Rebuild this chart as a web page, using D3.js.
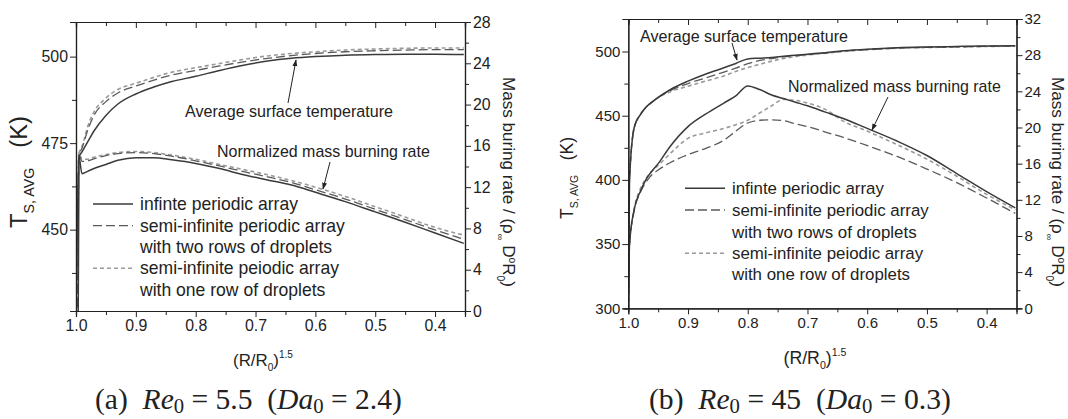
<!DOCTYPE html>
<html><head><meta charset="utf-8">
<script src="https://cdn.jsdelivr.net/npm/d3@7"></script>
<style>body{margin:0;background:#fff}svg{display:block}text{font-family:"Liberation Sans",Arial,sans-serif;fill:#222}</style>
</head><body><svg id="c" width="1068" height="419"></svg>
<script>
// ---------- data ----------
// Panel (a) Re0 = 5.5
const xA = [1.0,0.995,0.99,0.98,0.97,0.95,0.93,0.90,0.87,0.84,0.80,0.76,0.72,0.68,0.64,0.60,0.55,0.50,0.45,0.40,0.352];
const tempA_inf  = [300,471,472.5,475.5,478.5,483,486.3,489.2,491.2,492.8,494.3,496,497.5,498.7,499.5,500,500.4,500.6,500.7,500.7,500.6];
const tempA_two  = [300,471.5,473.5,479,483,487,489.5,491.5,493.2,494.7,496,497.3,498.5,499.5,500.3,500.9,501.4,501.7,501.9,502,502];
const tempA_one  = [300,472,474,480,484,488,490.5,492.3,494,495.5,496.8,498,499.2,500.2,500.9,501.4,501.9,502.2,502.4,502.5,502.5];
const massA_inf  = [0,14.9,13.3,13.55,13.8,14.2,14.6,14.85,14.85,14.65,14.3,13.8,13.2,12.7,12.2,11.5,10.6,9.6,8.6,7.55,6.55];
const massA_two  = [0,15.1,14.5,14.55,14.75,15.05,15.25,15.35,15.25,15.0,14.55,14.05,13.5,13.0,12.45,11.75,10.85,9.85,8.85,7.85,6.95];
const massA_one  = [0,15.3,14.7,14.7,14.9,15.15,15.35,15.45,15.35,15.1,14.7,14.2,13.7,13.2,12.65,12.0,11.1,10.1,9.1,8.1,7.35];
// Panel (b) Re0 = 45
const xB = [1.0,0.998,0.99,0.98,0.97,0.96,0.95,0.93,0.90,0.87,0.84,0.82,0.80,0.78,0.76,0.74,0.72,0.70,0.67,0.64,0.60,0.55,0.50,0.45,0.40,0.352];
const tempB_inf  = [300,400,441,450.7,456.8,460.7,464.2,470.2,476.9,482.5,487.3,490.7,494.2,494.8,495.4,496.3,497.1,497.9,499.1,500.5,501.8,502.9,503.5,503.9,504.3,504.5];
const tempB_two  = [300,400,441,450.7,456.8,460.7,464.2,469.5,475,479.5,484,487,490.5,493,494.5,495.8,496.8,497.6,498.8,500.2,501.5,502.6,503.2,503.6,504,504.2];
const tempB_one  = [300,400,441,450.7,456.8,460.7,464.0,468.5,473,477,481,484.5,487.5,490,492.5,494.5,496,497.3,498.6,500,501.4,502.5,503.1,503.5,503.9,504.1];
const massB_inf  = [0,7.0,11.0,12.9,14.3,15.2,16.0,17.9,20.1,21.5,22.7,23.5,24.6,24.2,23.6,23.2,22.8,22.4,21.7,21.0,19.9,18.5,16.9,14.9,12.9,11.1];
const massB_two  = [0,7.0,10.8,12.8,14.0,14.8,15.3,16.1,17.0,17.7,18.6,19.6,20.5,20.8,20.85,20.75,20.4,20.1,19.5,18.9,18.0,16.8,15.4,13.9,12.2,10.5];
const massB_one  = [0,7.0,11.0,13.2,14.4,15.2,15.8,17.1,18.8,19.4,19.9,20.3,20.8,21.6,22.4,23.1,23.0,22.7,22.0,20.7,19.6,18.1,16.5,14.6,12.6,10.9];
// ticks and labels
const xMajor = [1.0,0.9,0.8,0.7,0.6,0.5,0.4];
const xMinor = [0.95,0.85,0.75,0.65,0.55,0.45];
const yLeftA = [450,475,500], yLeftAMinor = [437.5,462.5,487.5];
const yLeftB = [300,350,400,450,500], yLeftBMinor = [325,375,425,475];
const yRightA = [0,4,8,12,16,20,24,28], yRightAMinor = [2,6,10,14,18,22,26];
const yRightB = [0,4,8,12,16,20,24,28,32], yRightBMinor = [2,6,10,14,18,22,26,30];
const seriesNames = ["infinte periodic array","semi-infinite periodic array","with two rows of droplets","semi-infinite peiodic array","with one row of droplets"];
const annTemp = "Average surface temperature", annMass = "Normalized mass burning rate";

const SANS = "'Liberation Sans', Arial, sans-serif";
const styles = [
  {stroke:"#3a3a3a", width:1.5, dash:null},
  {stroke:"#5a5a5a", width:1.3, dash:"9,4"},
  {stroke:"#9a9a9a", width:1.6, dash:"4,3"}
];

// size a text so that its advance width matches a width
function fit(sel, target){
  sel.attr("font-size",20);
  const w = sel.node().getComputedTextLength();
  const fs = 20*target/w;
  sel.attr("font-size",fs);
  return fs;
}

const svg = d3.select("#c");
svg.append("rect").attr("width",1068).attr("height",419).attr("fill","#fff");
const defs = svg.append("defs");
defs.append("marker").attr("id","arr").attr("viewBox","0 0 10 10").attr("refX",9).attr("refY",5)
  .attr("markerWidth",7).attr("markerHeight",7).attr("orient","auto")
  .append("path").attr("d","M0,1.5L10,5L0,8.5Z").attr("fill","#222");

function panel(o){
  const g = svg.append("g");
  const x = d3.scaleLinear().domain([1.0,0.35]).range([o.x0,o.x1]);
  const yL = d3.scaleLinear().domain(o.yLdom).range([o.y1,o.y0]);
  const yR = d3.scaleLinear().domain(o.yRdom).range([o.y1,o.y0]);
  const cid = "clip"+o.id;
  defs.append("clipPath").attr("id",cid).append("rect")
    .attr("x",o.x0).attr("y",o.y0).attr("width",o.x1-o.x0).attr("height",o.y1-o.y0);
  const plot = g.append("g").attr("clip-path",`url(#${cid})`);
  const mk = (xs,ys)=> xs.map((v,i)=>[v,ys[i]]);
  const line = sc => d3.line().x(d=>x(d[0])).y(d=>sc(d[1])).curve(d3.curveMonotoneX);
  const draw = (data,sc,s)=> plot.append("path").datum(data).attr("d",line(sc)).attr("fill","none")
     .attr("stroke",s.stroke).attr("stroke-width",s.width).attr("stroke-dasharray",s.dash);
  [2,1,0].forEach(k=>{ draw(mk(o.xs,o.temps[k]),yL,styles[k]); draw(mk(o.xs,o.mass[k]),yR,styles[k]); });

  const probe = g.append("text").text("500");
  const fs = fit(probe, o.tickW); probe.remove();

  const ax = g.append("g");
  ax.append("g").attr("transform",`translate(0,${o.y1})`).call(d3.axisBottom(x).tickValues(xMajor).tickFormat(d3.format(".1f")).tickSize(6).tickPadding(3));
  ax.append("g").attr("transform",`translate(0,${o.y1})`).call(d3.axisBottom(x).tickValues(xMinor).tickFormat("").tickSize(4));
  ax.append("g").attr("transform",`translate(0,${o.y0})`).call(d3.axisTop(x).tickValues(xMajor).tickFormat("").tickSize(-6));
  ax.append("g").attr("transform",`translate(0,${o.y0})`).call(d3.axisTop(x).tickValues(xMinor).tickFormat("").tickSize(-4));
  ax.append("g").attr("transform",`translate(${o.x0},0)`).call(d3.axisLeft(yL).tickValues(o.yLt).tickFormat(d3.format("d")).tickSize(6).tickPadding(2));
  ax.append("g").attr("transform",`translate(${o.x0},0)`).call(d3.axisLeft(yL).tickValues(o.yLm).tickFormat("").tickSize(4));
  ax.append("g").attr("transform",`translate(${o.x1},0)`).call(d3.axisRight(yR).tickValues(o.yRt).tickFormat(d3.format("d")).tickSize(6).tickPadding(2));
  ax.append("g").attr("transform",`translate(${o.x1},0)`).call(d3.axisRight(yR).tickValues(o.yRm).tickFormat("").tickSize(4));
  ax.selectAll(".domain").attr("stroke","#222").attr("stroke-width",1.2);
  ax.selectAll(".tick line").attr("stroke","#222").attr("stroke-width",1);
  ax.selectAll("text").attr("font-family",SANS).attr("font-size",fs).attr("fill","#222");

  // legend
  const lg = g.append("g");
  const rows = o.legRows;
  [[0,0],[1,1],[3,2]].forEach(([r,k])=>{
    lg.append("line").attr("x1",o.legX).attr("x2",o.legX+40).attr("y1",rows[r]).attr("y2",rows[r])
      .attr("stroke",styles[k].stroke).attr("stroke-width",styles[k].width).attr("stroke-dasharray",styles[k].dash);
  });
  const lts = seriesNames.map((s,i)=> lg.append("text").attr("x",o.legX+47).attr("y",rows[i]).attr("dy","0.35em").text(s));
  const lfs = fit(lts[1], o.legW);
  lts.forEach(t=>t.attr("font-size",lfs));

  // annotations
  const an = g.append("g");
  fit(an.append("text").attr("x",o.annT[0]).attr("y",o.annT[1]).text(annTemp), 208);
  fit(an.append("text").attr("x",o.annM[0]).attr("y",o.annM[1]).text(annMass), 213);
  an.append("line").attr("x1",o.arrT[0]).attr("y1",o.arrT[1]).attr("x2",o.arrT[2]).attr("y2",o.arrT[3])
    .attr("stroke","#222").attr("stroke-width",1).attr("marker-end","url(#arr)");
  an.append("line").attr("x1",o.arrM[0]).attr("y1",o.arrM[1]).attr("x2",o.arrM[2]).attr("y2",o.arrM[3])
    .attr("stroke","#222").attr("stroke-width",1).attr("marker-end","url(#arr)");

  // axis titles
  const lt = g.append("text").attr("text-anchor","middle")
    .attr("transform",`translate(${o.ylX},${o.ylY}) rotate(-90)`);
  lt.append("tspan").text("T");
  lt.append("tspan").style("font-size","0.6em").attr("dy","0.5em").text("S, AVG");
  lt.append("tspan").attr("dy","-0.3em").text("\u00a0\u00a0\u00a0(K)");
  fit(lt, o.ylW);

  const rt = g.append("text").attr("text-anchor","middle")
    .attr("transform",`translate(${o.yrX},${o.yrY}) rotate(90)`);
  rt.append("tspan").text("Mass buring rate / (ρ");
  rt.append("tspan").style("font-size","0.55em").attr("dy","0.6em").text("∞");
  rt.append("tspan").attr("dy","-0.33em").text("\u00a0D");
  rt.append("tspan").style("font-size","0.6em").attr("dy","-0.55em").text("o");
  rt.append("tspan").attr("dy","0.33em").text("R");
  rt.append("tspan").style("font-size","0.6em").attr("dy","0.55em").text("0");
  rt.append("tspan").attr("dy","-0.33em").text(")");
  fit(rt, 210);

  const xt = g.append("text").attr("text-anchor","middle").attr("x",o.xlX).attr("y",o.xlY);
  xt.append("tspan").text("(R/R");
  xt.append("tspan").style("font-size","0.6em").attr("dy","0.5em").text("0");
  xt.append("tspan").attr("dy","-0.3em").text(")");
  xt.append("tspan").style("font-size","0.6em").attr("dy","-0.75em").text("1.5");
  fit(xt, o.xlW);

  // caption
  const cap = g.append("text").attr("x",o.capX).attr("y",409).style("font-family","'Liberation Serif','DejaVu Serif',serif");
  cap.append("tspan").text(o.cap[0]+"\u00a0\u00a0");
  cap.append("tspan").attr("font-style","italic").text("Re");
  cap.append("tspan").style("font-size","0.7em").attr("dy","0.18em").text("0");
  cap.append("tspan").attr("dy","-0.126em").text("\u00a0=\u00a0"+o.cap[1]+"\u00a0\u00a0(");
  cap.append("tspan").attr("font-style","italic").text("Da");
  cap.append("tspan").style("font-size","0.7em").attr("dy","0.18em").text("0");
  cap.append("tspan").attr("dy","-0.126em").text("\u00a0=\u00a0"+o.cap[2]+")");
  fit(cap, o.capW);
}

panel({id:"a", x0:76, x1:465, y0:22, y1:311, yLdom:[426.5,510], yRdom:[0,28],
  xs:xA, temps:[tempA_inf,tempA_two,tempA_one], mass:[massA_inf,massA_two,massA_one],
  yLt:yLeftA, yLm:yLeftAMinor, yRt:yRightA, yRm:yRightAMinor, tickW:26.5,
  legX:93, legRows:[204,225.7,247,268.3,290], legW:205,
  annT:[185,117], annM:[217,157], arrT:[288,103,296,60], arrM:[330,162,323,189],
  ylX:27, ylY:172, ylW:112, yrX:503, yrY:182, xlX:263, xlY:366, xlW:60,
  capX:95, capW:307, cap:["(a)","5.5","2.4"]});
panel({id:"b", x0:628.3, x1:1016.5, y0:19, y1:308.3, yLdom:[300,525.3], yRdom:[0,32],
  xs:xB, temps:[tempB_inf,tempB_two,tempB_one], mass:[massB_inf,massB_two,massB_one],
  yLt:yLeftB, yLm:yLeftBMinor, yRt:yRightB, yRm:yRightBMinor, tickW:25,
  legX:685, legRows:[188.3,210,231.7,253.3,274.3], legW:197,
  annT:[640,42], annM:[788,92], arrT:[732,43,737,60], arrM:[888,97,872,130],
  ylX:573, ylY:178, ylW:82, yrX:1052, yrY:182, xlX:815, xlY:364, xlW:63,
  capX:649, capW:302, cap:["(b)","45","0.3"]});
</script></body></html>
